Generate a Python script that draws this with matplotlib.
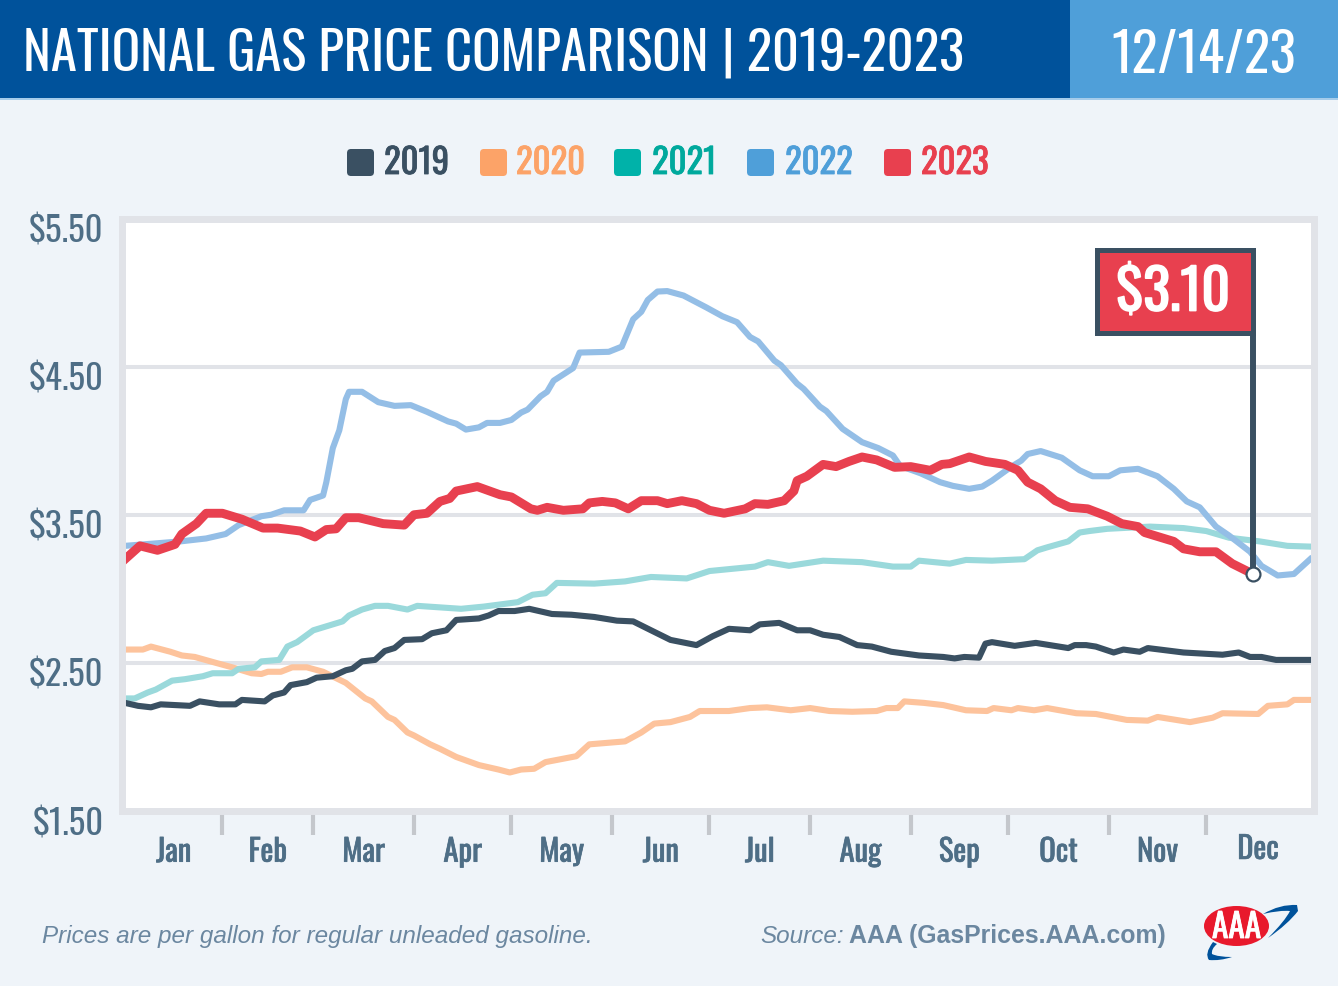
import matplotlib
matplotlib.use("Agg")
import matplotlib.pyplot as plt
import matplotlib.patheffects as pe
from matplotlib.patches import Rectangle, FancyBboxPatch, Ellipse, PathPatch
from matplotlib.path import Path
from matplotlib.transforms import ScaledTranslation

NARROW = ['Oswald', 'Liberation Sans Narrow', 'Liberation Sans', 'DejaVu Sans']
ARIAL = ['Liberation Sans', 'DejaVu Sans']

# prices, x is day of the year
days_2019 = [0,4,8,11,20,23,29,34,36,43,45.5,49,51,56,59,64,68,70,73,77,80,83,86,91.5,94.5,99,102,109,112,115,120,124.5,131.5,137.5,144.5,151.5,156.5,162,168,176,181,186,192.5,195.5,201.5,207,211,215,220,225.5,230,236,244.5,252,255.5,258.5,263,265,267,274,280.5,290.5,292.5,296,299,304.5,307.5,312.5,315,326,338,343,346.5,350,354.5,365]
price_2019 = [2.23,2.21,2.20,2.22,2.21,2.24,2.22,2.22,2.25,2.24,2.28,2.30,2.35,2.37,2.40,2.41,2.45,2.46,2.51,2.52,2.58,2.60,2.655,2.66,2.70,2.72,2.79,2.80,2.82,2.85,2.85,2.865,2.83,2.825,2.81,2.785,2.78,2.72,2.655,2.62,2.68,2.73,2.72,2.76,2.77,2.72,2.72,2.69,2.675,2.62,2.61,2.575,2.55,2.54,2.53,2.54,2.535,2.63,2.64,2.615,2.635,2.60,2.62,2.62,2.61,2.57,2.59,2.575,2.60,2.57,2.555,2.57,2.54,2.54,2.52,2.52]

days_2020 = [0,5.5,8,14,17.5,21.5,28,33,39,42,44,48,51.5,56,61,68,74,76,81,83,87,89,94,97,102,109,115,118.5,122,126,129.5,139,143,154,159,163,168,174,177,186,192.5,197.7,205,211,217,224,231.5,234.5,238,240,246,252,259,265.5,267.5,273,275,280,284,293,299,308.5,315,318,328,335,338,349,352,358,360,365]
price_2020 = [2.59,2.59,2.61,2.575,2.55,2.54,2.50,2.47,2.43,2.425,2.44,2.44,2.47,2.47,2.44,2.365,2.26,2.24,2.135,2.115,2.03,2.01,1.95,1.92,1.865,1.81,1.78,1.76,1.78,1.785,1.83,1.87,1.95,1.97,2.03,2.09,2.10,2.135,2.175,2.175,2.195,2.20,2.18,2.195,2.175,2.17,2.175,2.195,2.195,2.24,2.23,2.215,2.18,2.175,2.195,2.18,2.195,2.18,2.195,2.16,2.155,2.115,2.11,2.135,2.10,2.13,2.16,2.155,2.21,2.22,2.25,2.25]

days_2021 = [0,3,7,9.5,14.5,18.5,24,27,33,35,40,42,47.5,50,53,58,67,69,73,77,81,87,90,103.5,110.5,121,125.5,129.5,133,144.5,154,162,173,180,194,198,204.5,215,227,236.5,242,244.5,254,259,267,277,281,284,290.5,294,297,302.5,315.7,326,333,340,349.5,358,365]
price_2021 = [2.26,2.26,2.30,2.32,2.38,2.39,2.41,2.43,2.43,2.46,2.47,2.51,2.52,2.61,2.64,2.72,2.78,2.82,2.86,2.885,2.885,2.86,2.885,2.865,2.88,2.91,2.96,2.97,3.04,3.035,3.05,3.08,3.07,3.12,3.15,3.18,3.155,3.19,3.18,3.15,3.15,3.19,3.17,3.195,3.19,3.20,3.26,3.28,3.32,3.38,3.39,3.405,3.42,3.41,3.39,3.345,3.32,3.29,3.285]

days_2022 = [0,17,25,31,35,42,45,49,55,57,61,62,64,66,68,69,73,78,83,88,93,99.5,102,105,109,111.5,115.5,119,122,124,128,130,132,138,140,149,153,156.5,159,161,164,167,172,179,184,188.5,192.5,195,200,202,207,209,214,216,221,223,227,232,236.5,238.7,245,251,255,260,264,267,273,276,278,282,288.5,294,298,303,306.5,312,318,323,327,331,336,340,346.5,350,355,360,365]
price_2022 = [3.29,3.32,3.34,3.37,3.43,3.49,3.50,3.53,3.53,3.60,3.63,3.72,3.95,4.07,4.28,4.33,4.33,4.26,4.235,4.24,4.195,4.13,4.115,4.075,4.09,4.12,4.12,4.14,4.19,4.21,4.30,4.33,4.405,4.49,4.595,4.60,4.635,4.82,4.87,4.95,5.007,5.01,4.98,4.90,4.84,4.80,4.70,4.67,4.54,4.51,4.385,4.35,4.23,4.20,4.08,4.05,3.99,3.95,3.90,3.83,3.78,3.72,3.695,3.675,3.69,3.73,3.825,3.865,3.91,3.93,3.885,3.80,3.76,3.76,3.80,3.81,3.76,3.675,3.59,3.55,3.42,3.36,3.25,3.155,3.09,3.10,3.20]

days_2023 = [0,4.6,10,15.4,17.5,22,25,30,36,42.5,47,54,58.5,62,65,68,72,79.5,86,89,93,97,100,102,108.5,115.5,119,125,127,130,135,141,143,147,151,155,159,164,167,171.5,176,180,184.5,191,194,198,203,206,207,210,215,219,223,227,231.5,237,242,248,251.6,254,260,265,271,275,278,282,286.5,291,296.5,302.5,307,312,314,323,326,331,336,341,347.4]
price_2023 = [3.20,3.29,3.26,3.30,3.37,3.44,3.51,3.51,3.47,3.41,3.41,3.39,3.35,3.40,3.405,3.48,3.48,3.44,3.43,3.50,3.51,3.59,3.61,3.66,3.69,3.635,3.62,3.54,3.53,3.55,3.53,3.54,3.58,3.59,3.58,3.54,3.595,3.595,3.575,3.595,3.575,3.53,3.51,3.54,3.575,3.57,3.595,3.66,3.73,3.76,3.84,3.825,3.86,3.89,3.87,3.82,3.825,3.80,3.84,3.845,3.89,3.86,3.84,3.80,3.72,3.675,3.595,3.55,3.54,3.49,3.44,3.42,3.38,3.32,3.27,3.25,3.25,3.17,3.10]

years = ['2019', '2020', '2021', '2022', '2023']
y_ticks = [1.5, 2.5, 3.5, 4.5, 5.5]
y_labels = ['$1.50', '$2.50', '$3.50', '$4.50', '$5.50']
month_edges = [30, 58, 89, 119, 150, 180, 211, 242, 272, 303, 333]
month_mids = [15, 44, 73.5, 104, 134.5, 165, 195.5, 226.5, 257, 287.5, 318, 349]
months = ['Jan', 'Feb', 'Mar', 'Apr', 'May', 'Jun', 'Jul', 'Aug', 'Sep', 'Oct', 'Nov', 'Dec']

# colours
BG = '#EFF4F9'
DARK = '#3A5062'
RED = '#E8404F'
SLATE = '#4E6E86'
FRAME = '#E1E3E8'
legend_colors = [DARK, '#FCA368', '#00B2A9', '#4F9FD9', RED]
text_colors = [DARK, '#FCA368', '#00A99D', '#4F9FD9', RED]


def thicker(c, w):
    return [pe.withStroke(linewidth=w, foreground=c)]


fig = plt.figure(figsize=(13.38, 9.87), dpi=100, facecolor=BG)

# overlay in pixels for header, legend, footer, logo
bg = fig.add_axes([0, 0, 1, 1], zorder=0)
bg.set_xlim(0, 1338)
bg.set_ylim(987, 0)
bg.axis('off')

bg.add_patch(Rectangle((0, 0), 1070, 100, fc='#00529B', ec='none'))
bg.add_patch(Rectangle((1070, 0), 268, 100, fc='#4F9FD9', ec='none'))
bg.add_patch(Rectangle((0, 99), 1338, 2, fc='#A5CCEA', ec='none'))
bg.text(23, 71, 'NATIONAL GAS PRICE COMPARISON', color='white', fontsize=38, family=NARROW, va='baseline')
bg.text(722, 71, '| 2019-2023', color='white', fontsize=38, family=NARROW, va='baseline')
bg.text(1204, 73, '12/14/23', color='white', fontsize=39, family=NARROW, ha='center', va='baseline')

swatch_x = [347, 480, 614, 747, 884]
label_x = [384, 516, 652, 785, 921]
for sx, lx, year, c, tc in zip(swatch_x, label_x, years, legend_colors, text_colors):
    bg.add_patch(FancyBboxPatch((sx + 4, 154), 19, 19, boxstyle='round,pad=4,rounding_size=4', fc=c, ec='none'))
    bg.text(lx, 175, year, color=tc, fontsize=25, family=NARROW, va='baseline', path_effects=thicker(tc, 0.6))

bg.text(42, 943, 'Prices are per gallon for regular unleaded gasoline.', color='#6B87A0', fontsize=17.5,
        family=ARIAL, style='italic', va='baseline')
bg.text(760, 943, 'Source:', color='#6B87A0', fontsize=17.5, family=ARIAL, style='italic', va='baseline')
bg.text(849, 943, 'AAA (GasPrices.AAA.com)', color='#6B87A0', fontsize=17.9, family=ARIAL, weight='bold', va='baseline')

# AAA logo
swoosh = Path([(1263, 915), (1280, 905), (1297, 906), (1298, 912), (1288, 925), (1268, 939), (1285, 922), (1290, 912), (1280, 911), (1263, 915)],
              [Path.MOVETO, Path.CURVE3, Path.CURVE3, Path.LINETO, Path.CURVE3, Path.CURVE3, Path.CURVE3, Path.CURVE3, Path.CURVE3, Path.CURVE3])
bg.add_patch(PathPatch(swoosh, fc='#00529B', ec='none'))
swoosh2 = Path([(1213, 943), (1204, 955), (1209, 961), (1220, 962), (1232, 958), (1218, 958), (1212, 955), (1211, 950), (1217, 945)],
               [Path.MOVETO, Path.CURVE3, Path.CURVE3, Path.CURVE3, Path.CURVE3, Path.CURVE3, Path.CURVE3, Path.CURVE3, Path.LINETO])
bg.add_patch(PathPatch(swoosh2, fc='#00529B', ec='none'))
bg.add_patch(Ellipse((1236.5, 927), 65, 40, fc='#E8192C', ec='none'))
bg.text(1236.5, 928, 'AAA', color='white', fontsize=24, family=NARROW, ha='center', va='center',
        path_effects=thicker('white', 0.6))

# chart
ax = fig.add_axes([121.5 / 1338, 1 - 812 / 987, 1192 / 1338, 592.5 / 987], zorder=1, facecolor='white')
ax.set_xlim(-1.08, 366.03)
ax.set_ylim(1.5, 5.5)

for s in ax.spines.values():
    s.set_color(FRAME)
    s.set_linewidth(5)
    s.set_zorder(5)

ax.set_yticks(y_ticks)
ax.set_yticklabels(y_labels, color=SLATE, fontsize=25, family=NARROW)
ax.tick_params(axis='y', length=0, pad=13)
ax.grid(axis='y', color=FRAME, linewidth=2.9, zorder=1)
ax.set_axisbelow(True)
# the y labels sit a little under their gridlines
for lab in ax.get_yticklabels():
    lab.set_transform(lab.get_transform() + ScaledTranslation(0, -6.5 / 72, fig.dpi_scale_trans))

ax.set_xticks(month_edges)
ax.set_xticklabels([])
ax.tick_params(axis='x', which='major', length=17.3, width=3, color='#C4C7CC')
ax.set_xticks(month_mids, minor=True)
ax.set_xticklabels(months, minor=True, color=SLATE, fontsize=22, family=NARROW,
                   path_effects=thicker(SLATE, 0.5))
ax.tick_params(axis='x', which='minor', length=0, pad=18.5)
ax.xaxis.get_minor_ticks()[-1].set_pad(16.5)

ax.plot(days_2020, price_2020, color='#FDC39C', lw=4.4, solid_joinstyle='round')
ax.plot(days_2021, price_2021, color='#9AD9DB', lw=4.4, solid_joinstyle='round')
ax.plot(days_2019, price_2019, color=DARK, lw=4.4, solid_joinstyle='round')
ax.plot(days_2022, price_2022, color='#94BEE6', lw=4.4, solid_joinstyle='round')
ax.plot(days_2023, price_2023, color=RED, lw=6.4, solid_joinstyle='round')

# flag on the latest price
last_day = days_2023[-1]
last_price = price_2023[-1]
ax.plot([last_day, last_day], [last_price, 5.287], color=DARK, lw=4.3, solid_capstyle='butt', zorder=6)
ax.add_patch(Rectangle((299.2, 4.726), last_day - 299.2, 5.287 - 4.726, fc=RED, ec=DARK, lw=3.6, zorder=6))
ax.text((299.2 + last_day) / 2 - 0.5, 5.0, '$3.10', color='white', fontsize=40, family=NARROW,
        ha='center', va='center', zorder=7, path_effects=thicker('white', 1.2))
ax.plot([last_day], [last_price], 'o', ms=10, mfc='white', mec=DARK, mew=1.6, zorder=7)

plt.savefig('out.png', dpi=100, facecolor=BG)
plt.close()
